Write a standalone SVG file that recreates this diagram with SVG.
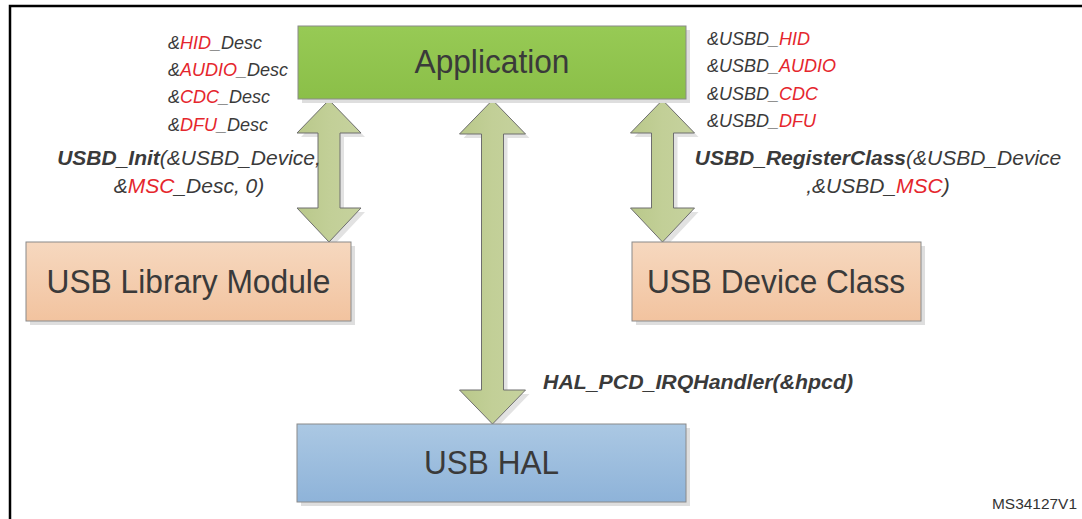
<svg xmlns="http://www.w3.org/2000/svg" width="1082" height="519" viewBox="0 0 1082 519">
  <defs>
    <linearGradient id="gApp" x1="0" y1="0" x2="0" y2="1">
      <stop offset="0" stop-color="#97ca55"/>
      <stop offset="1" stop-color="#8bbf48"/>
    </linearGradient>
    <linearGradient id="gPeach" x1="0" y1="0" x2="0" y2="1">
      <stop offset="0" stop-color="#f6d8bf"/>
      <stop offset="1" stop-color="#f2c39f"/>
    </linearGradient>
    <linearGradient id="gBlue" x1="0" y1="0" x2="0" y2="1">
      <stop offset="0" stop-color="#abc8e3"/>
      <stop offset="1" stop-color="#8eb3d9"/>
    </linearGradient>
    <linearGradient id="gArrow" x1="0" y1="0" x2="1" y2="0">
      <stop offset="0" stop-color="#b9c88a"/>
      <stop offset="0.5" stop-color="#c2cf97"/>
      <stop offset="1" stop-color="#c6d29e"/>
    </linearGradient>
  </defs>
  <style>
    .frame { fill: none; stroke: #000; stroke-width: 2.5; }
    .shadow { fill: #dedede; }
    .box { stroke: #8a8a8a; stroke-width: 1; }
    .arrow { fill: url(#gArrow); stroke: #6e6e6e; stroke-width: 1; }
    .ashadow { fill: #e2e2e2; }
    .title { font-family: "Liberation Sans", Arial, sans-serif; font-size: 33px; fill: #3a3a3a; text-anchor: middle; }
    .lbl { font-family: "Liberation Sans", Arial, sans-serif; font-style: italic; fill: #3a3a3a; }
    .sm { font-size: 18px; }
    .md { font-size: 21px; }
    .red { fill: #e5262d; }
    .b { font-weight: bold; }
    .ref { font-family: "Liberation Sans", Arial, sans-serif; font-size: 14px; fill: #333; }
  </style>

  <rect width="1082" height="519" fill="#fff"/>
  <!-- page frame -->
  <path class="frame" d="M10,519 V6 H1082"/>

  <!-- connectors: block arrows between layers -->
  <g id="connectors">
    <g transform="translate(4,4)">
      <polygon class="ashadow" points="329,100 361,133 340,133 340,208 361,208 329,242 297,208 318,208 318,133 297,133"/>
      <polygon class="ashadow" points="492.5,100 525.5,134 503.5,134 503.5,390 525.5,390 492.5,424 459.5,390 481.5,390 481.5,134 459.5,134"/>
      <polygon class="ashadow" points="662.5,100 694.5,133 673.5,133 673.5,208 694.5,208 662.5,242 630.5,208 651.5,208 651.5,133 630.5,133"/>
    </g>
    <polygon class="arrow" points="329,100 361,133 340,133 340,208 361,208 329,242 297,208 318,208 318,133 297,133"/>
    <polygon class="arrow" points="492.5,100 525.5,134 503.5,134 503.5,390 525.5,390 492.5,424 459.5,390 481.5,390 481.5,134 459.5,134"/>
    <polygon class="arrow" points="662.5,100 694.5,133 673.5,133 673.5,208 694.5,208 662.5,242 630.5,208 651.5,208 651.5,133 630.5,133"/>
  </g>

  <!-- Application -->
  <g id="application">
    <rect class="shadow" x="302" y="30" width="388" height="73"/>
    <rect class="box" x="298" y="26" width="388" height="73" fill="url(#gApp)"/>
    <text class="title" x="492" y="73" textLength="155" lengthAdjust="spacingAndGlyphs">Application</text>
  </g>

  <!-- USB Library Module -->
  <g id="usb-library-module">
    <rect class="shadow" x="30" y="246" width="325" height="79"/>
    <rect class="box" x="26" y="242" width="325" height="79" fill="url(#gPeach)"/>
    <text class="title" x="188.5" y="292.5" textLength="284" lengthAdjust="spacingAndGlyphs">USB Library Module</text>
  </g>

  <!-- USB Device Class -->
  <g id="usb-device-class">
    <rect class="shadow" x="636" y="246" width="289" height="79"/>
    <rect class="box" x="632" y="242" width="289" height="79" fill="url(#gPeach)"/>
    <text class="title" x="776" y="292.5" textLength="258" lengthAdjust="spacingAndGlyphs">USB Device Class</text>
  </g>

  <!-- USB HAL -->
  <g id="usb-hal">
    <rect class="shadow" x="301" y="428" width="389" height="78"/>
    <rect class="box" x="297" y="424" width="389" height="78" fill="url(#gBlue)"/>
    <text class="title" x="491.5" y="474" textLength="135" lengthAdjust="spacingAndGlyphs">USB HAL</text>
  </g>

  <!-- class descriptors passed to USBD_Init -->
  <g id="init-labels">
    <text class="lbl sm" x="168" y="49">&amp;<tspan class="red">HID</tspan>_Desc</text>
    <text class="lbl sm" x="168" y="76">&amp;<tspan class="red">AUDIO</tspan>_Desc</text>
    <text class="lbl sm" x="168" y="103">&amp;<tspan class="red">CDC</tspan>_Desc</text>
    <text class="lbl sm" x="168" y="131">&amp;<tspan class="red">DFU</tspan>_Desc</text>
    <text class="lbl md" x="189" y="165" text-anchor="middle"><tspan class="b">USBD_Init</tspan>(&amp;USBD_Device,</text>
    <text class="lbl md" x="189" y="193" text-anchor="middle">&amp;<tspan class="red">MSC</tspan>_Desc, 0)</text>
  </g>

  <!-- class handles passed to USBD_RegisterClass -->
  <g id="register-labels">
    <text class="lbl sm" x="707" y="45">&amp;USBD_<tspan class="red">HID</tspan></text>
    <text class="lbl sm" x="707" y="72">&amp;USBD_<tspan class="red">AUDIO</tspan></text>
    <text class="lbl sm" x="707" y="100">&amp;USBD_<tspan class="red">CDC</tspan></text>
    <text class="lbl sm" x="707" y="127">&amp;USBD_<tspan class="red">DFU</tspan></text>
    <text class="lbl md" x="878" y="165" text-anchor="middle"><tspan class="b">USBD_RegisterClass</tspan>(&amp;USBD_Device</text>
    <text class="lbl md" x="878" y="193" text-anchor="middle">,&amp;USBD_<tspan class="red">MSC</tspan>)</text>
  </g>

  <!-- interrupt entry -->
  <text class="lbl md b" x="543" y="389" textLength="310" lengthAdjust="spacingAndGlyphs">HAL_PCD_IRQHandler(&amp;hpcd)</text>

  <text class="ref" x="992" y="509" textLength="85" lengthAdjust="spacingAndGlyphs">MS34127V1</text>
</svg>
